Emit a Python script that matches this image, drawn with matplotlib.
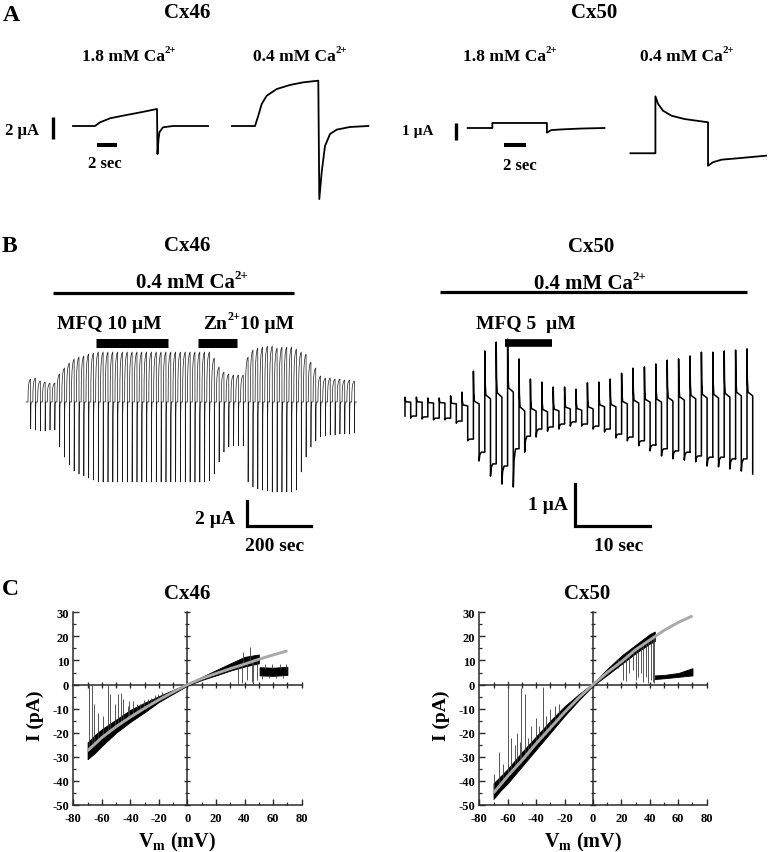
import matplotlib
matplotlib.use('Agg')
import matplotlib.pyplot as plt
import numpy as np

plt.rcParams['font.family'] = ['Liberation Serif', 'DejaVu Serif']
plt.rcParams['font.weight'] = 'bold'
plt.rcParams['axes.unicode_minus'] = False

# ------------------------------------------------------------------ data
# Panel A, Cx46 (time s, current uA relative to holding)
a46_t1 = [0, 2.2, 2.7, 3.7, 5.0, 6.4, 7.4, 8.4, 8.45, 8.55, 8.65, 9.0, 10.0, 13.5]
a46_i1 = [0, 0, 0.33, 0.7, 0.94, 1.18, 1.36, 1.55, -2.55, -1.2, -0.55, -0.12, 0, 0]
a46_t2 = [0, 2.3, 2.63, 2.97, 3.47, 4.47, 5.8, 7.13, 8.63, 8.73, 8.97, 9.3, 9.8, 10.47, 11.8, 13.63]
a46_i2 = [0, 0, 0.94, 2.0, 2.75, 3.36, 3.73, 3.97, 4.12, -6.64, -4.18, -1.82, -0.73, -0.33, -0.09, 0]
# Panel A, Cx50
a50_t1 = [0, 2.27, 2.27, 7.3, 7.3, 7.7, 8.7, 10.5, 12.6]
a50_i1 = [0, 0, 0.29, 0.29, -0.27, -0.12, -0.08, -0.03, 0]
a50_t2 = [0, 2.3, 2.3, 2.55, 3.0, 3.78, 4.97, 7.15, 7.15, 7.6, 8.4, 9.9, 12.5]
a50_i2 = [0, 0, 3.29, 2.85, 2.46, 2.17, 1.98, 1.79, -0.72, -0.52, -0.37, -0.29, -0.14]
ca18 = [('1.8 mM Ca', False), ('2+', True)]
ca04 = [('0.4 mM Ca', False), ('2+', True)]
zn10 = [('Zn', False), ('2+', True), ('10 µM', False)]

# Panel B, Cx46: peak and tail amplitude (uA) of each pulse, pulse period (s)
b46_period = 15.1
b46_peak = [1.84, 1.92, 1.68, 1.60, 1.52, 1.52,
            2.24, 2.72, 3.12, 3.44, 3.60, 3.68, 3.84, 3.92,
            4.0, 4.0, 4.0, 4.0, 4.0, 4.0, 4.0, 4.0, 4.0, 4.0, 4.0, 4.0,
            4.0, 4.0, 4.0, 4.0, 4.0, 4.0, 4.0, 4.0, 4.0, 4.0, 4.0, 4.0,
            3.52, 2.80, 2.40, 2.24, 2.16, 2.16, 2.16,
            3.60, 4.16, 4.32, 4.40, 4.48, 4.48, 4.32, 4.40, 4.40, 4.40, 4.24,
            4.0, 3.84, 3.20, 2.72, 2.08,
            1.92, 1.92, 1.84, 1.84, 1.76, 1.76, 1.68]
b46_tail = [2.16, 2.24, 2.32, 2.32, 2.24, 2.24,
            3.60, 4.40, 5.04, 5.52, 5.76, 5.92, 6.08, 6.24,
            6.4, 6.4, 6.4, 6.4, 6.4, 6.4, 6.4, 6.4, 6.4, 6.4, 6.4, 6.4,
            6.4, 6.4, 6.4, 6.4, 6.4, 6.4, 6.4, 6.4, 6.4, 6.4, 6.4, 6.32,
            5.76, 4.80, 4.00, 3.60, 3.52, 3.52, 3.52,
            6.40, 6.80, 6.96, 7.04, 7.12, 7.20, 7.20, 7.20, 7.20, 7.20, 7.04,
            5.60, 4.40, 3.60, 3.12, 2.80,
            2.72, 2.64, 2.64, 2.56, 2.56, 2.56, 2.48]
# pulse shape (fraction of period / fraction of amplitude)
b46_rise_t = [0.0, 0.03, 0.10, 0.22, 0.38, 0.55]
b46_rise_f = [0.0, 0.45, 0.70, 0.86, 0.96, 1.0]
b46_tail_t = [0.555, 0.60, 0.66]
b46_tail_f = [-1.0, -0.15, 0.0]
b46_ca = (78, 831)
b46_mfq = (212, 437)
b46_zn = (531, 653)

# Panel B, Cx50: per pulse peak, positive plateau, negative trough, negative plateau (uA)
b50_period = 1.52
b50_peak = [0.33, 0.33, 0.31, 0.31, 0.36, 0.45, 0.95, 1.43, 1.64, 1.71, 1.24, 0.76, 0.69,
            0.57, 0.57, 0.52, 0.67, 0.69, 0.76, 0.90, 1.02, 1.05, 1.12, 1.21, 1.24, 1.31,
            1.40, 1.40, 1.43, 1.45, 1.48]
b50_up = [0.21, 0.21, 0.19, 0.19, 0.17, 0.12, 0.17, 0.29, 0.33, 0.45, 0.0, 0.0, -0.02,
          0.0, 0.05, 0.02, 0.05, 0.10, 0.10, 0.17, 0.19, 0.21, 0.21, 0.24, 0.26, 0.29,
          0.31, 0.31, 0.33, 0.36, 0.36]
b50_trough = [-0.17, -0.19, -0.21, -0.21, -0.29, -0.71, -1.19, -1.55, -1.74, -1.81, -0.98,
              -0.62, -0.48, -0.43, -0.36, -0.36, -0.43, -0.50, -0.64, -0.71, -0.83, -0.95,
              -1.07, -1.14, -1.17, -1.21, -1.31, -1.33, -1.38, -1.43, -1.50]
b50_low = [-0.12, -0.14, -0.17, -0.17, -0.24, -0.67, -0.98, -1.26, -1.31, -0.90, -0.60,
           -0.43, -0.38, -0.31, -0.26, -0.31, -0.36, -0.43, -0.55, -0.62, -0.71, -0.81,
           -0.90, -0.95, -0.98, -1.07, -1.10, -1.10, -1.14, -1.14, -1.14]
b50_up_t = [0.0, 0.03, 0.09, 0.5]
b50_up_f = [1.0, 0.35, 0.08, 0.0]
b50_dn_t = [0.5, 0.56, 0.7, 1.0]
b50_dn_f = [1.0, 0.3, 0.0, 0.0]
b50_end = 46.4
b50_ca = (4.67, 45.6)
b50_mfq = (13.3, 19.6)

# Panel C: I-V relations (mV, pA)
fit_v = [-70, -60, -50, -40, -30, -20, -10, 0, 10, 20, 30, 40, 50, 60, 70]
fit46 = [-27.5, -22, -17.5, -13.5, -9.8, -6.3, -3.1, 0, 2.5, 4.6, 6.6, 8.5, 10.5, 12.3, 14.0]
fit50 = [-45, -38, -31.5, -24.5, -18, -11.5, -5.5, 0, 5, 9.5, 14.5, 18.5, 22.5, 25.8, 28.5]

band46_v = [-70, -65, -60, -50, -40, -30, -20, -10, 0, 10, 20, 30, 40, 50]
band46_lo = [-31, -28.5, -25.5, -20, -15.5, -11.5, -7.2, -3.8, -0.4, 1.9, 3.8, 5.8, 7.5, 8.8]
band46_hi = [-24, -21, -18.5, -14.5, -10.5, -7.5, -4.8, -2.2, 0.4, 3.2, 6.0, 8.8, 11.5, 12.5]
sub46_v = [50.5, 60, 70]
sub46_lo = [3.8, 3.6, 4.0]
sub46_hi = [7.2, 7.0, 7.4]
sp46_v = [-69.2, -67.0, -65.5, -63.0, -59.0, -55.5, -54.3, -51.0, -48.5, -46.8, -45.0,
          -42.0, -40.8, -38.0, -35.5, -33.0, -30.5, -28.0, -25.5, -23.0, -20.5, -18.0,
          35.6, 38.0, 38.7, 41.5, 43.8, 45.0, 46.1, 48.5,
          52.0, 54.5, 57.0, 59.5, 62.0, 64.5, 67.0, 69.0]
sp46_from = [-27, -26, -25, -24, -21.5, -19.5, -19, -18, -17, -16, -15.5, -14, -13.8,
             -12.8, -11.5, -11, -10, -9, -8, -7.2, -6.5, -5.8,
             8, 9, 9, 9.5, 10, 10, 10.5, 11,
             4, 6.5, 4, 6.5, 4, 6.5, 4, 6.5]
sp46_to = [0, 0, -8, -12, -13, 0, -4, -8, -4, -3.5, -6, -9, -7, -7, -8, -8, -6.5, -6,
           -5.5, -4.5, -4, -3,
           0, 0.5, 13.5, 2, 15.5, 1, 0, 2,
           2.5, 8.5, 2.8, 8.6, 2.6, 8.4, 2.9, 8.6]

band50_v = [-70, -65, -60, -50, -40, -30, -20, -10, 0, 10, 20, 30, 40, 43.5]
band50_lo = [-47.5, -44, -41, -34, -27, -20, -13, -6.5, -0.5, 4, 8.5, 13, 17, 18]
band50_hi = [-41, -38, -35, -28, -21.5, -15, -9, -4, 0.5, 6.5, 12, 16.5, 21, 22]
sub50_v = [43.5, 50, 60, 70]
sub50_lo = [2.3, 2.6, 3.2, 3.8]
sub50_hi = [3.8, 4.0, 4.8, 6.8]
sp50_v = [-69.5, -66.0, -63.0, -60.0, -57.5, -55.0, -53.5, -51.5, -50.5, -48.0, -46.0,
          -43.5, -40.0, -38.0, -35.2, -33.0, -30.0, -26.5, -24.0,
          17.8, 21.0, 23.5, 25.0, 28.0, 30.5, 32.0, 33.5, 35.5, 37.0, 39.0, 40.5, 42.0, 43.0]
sp50_from = [-45, -42, -40, -38, -36.5, -35, -34, -33, -32.5, -31, -29.5, -27.5, -25,
             -24, -22, -21, -19, -16.5, -15,
             10.5, 11.5, 12.5, 13, 14.5, 15.5, 16, 16.5, 17.5, 18, 19, 19.5, 20, 20.5]
sp50_to = [-37, -28, -33, 1.5, -22, -25, -20, -24, -1.5, -4, -22, -17, -14, -17, -1,
           -13, -10, -9, -8,
           7, 2, 1.5, 5, 6, 2, 3, 5, 1, 3, 0.5, 2, 1, 0.5]

x_ticks = [-80, -60, -40, -20, 0, 20, 40, 60, 80]
y_ticks = [-50, -40, -30, -20, -10, 0, 10, 20, 30]

# ------------------------------------------------------------------ layout
W, H = 770, 853
fig = plt.figure(figsize=(W / 100, H / 100), dpi=100)
renderer = fig.canvas.get_renderer()


def px_axes(x0, y0, x1, y1):
    return fig.add_axes([x0 / W, 1 - y1 / H, (x1 - x0) / W, (y1 - y0) / H])


def trace_axes(box, origin, sx, sy):
    x0, y0, x1, y1 = box
    ox, oy = origin
    ax = px_axes(*box)
    ax.set_xlim((x0 - ox) / sx, (x1 - ox) / sx)
    ax.set_ylim((oy - y1) / sy, (oy - y0) / sy)
    ax.axis('off')
    return ax


def ftext(x, y, s, size, ha='center', va='baseline'):
    return fig.text(x / W, 1 - y / H, s, fontsize=size, ha=ha, va=va, fontweight='bold')


def stext(xc, y, parts, size):
    """centered text made of normal and superscript segments"""
    objs, widths = [], []
    for s, sup in parts:
        fs = size * 0.62 if sup else size
        t = fig.text(0, 0, s, fontsize=fs, fontweight='bold', ha='left', va='baseline')
        widths.append(t.get_window_extent(renderer).width)
        objs.append((t, sup))
    total = sum(widths)
    x = xc - total / 2
    for (t, sup), w in zip(objs, widths):
        yy = y - (size * 0.45 * 100 / 72 if sup else 0)
        t.set_position((x / W, 1 - yy / H))
        x += w


K = 'black'

# ---------------- Panel A
ftext(3, 21, 'A', 17, ha='left')
ftext(187, 18, 'Cx46', 15)
ftext(594, 18, 'Cx50', 15)
stext(129, 61, ca18, 12.5)
stext(300, 61, ca04, 12.5)
stext(510, 61, ca18, 12.5)
stext(687, 61, ca04, 12.5)

axA46 = trace_axes((0, 25, 385, 215), (73, 127), 10.0, 11.0)
axA46.plot(a46_t1, a46_i1, color=K, lw=1.3)
axA46.plot(np.array(a46_t2) + 15.9, a46_i2, color=K, lw=1.3)
axA46.plot([-2.0, -2.0], [-1.18, -1.18 + 2], color=K, lw=2.4, solid_capstyle='butt')
axA46.plot([2.4, 2.4 + 2], [-1.73, -1.73], color=K, lw=2.9, solid_capstyle='butt')
ftext(22, 135, '2 µA', 12)
ftext(105, 168, '2 sec', 12)

axA50 = trace_axes((385, 25, 770, 215), (467.7, 129), 10.85, 17.3)
axA50.plot(a50_t1, a50_i1, color=K, lw=1.3)
axA50.plot(np.array(a50_t2) + 15.0, np.array(a50_i2) - 1.46, color=K, lw=1.3)
axA50.plot([-1.08, -1.08], [-0.69, -0.69 + 1], color=K, lw=2.4, solid_capstyle='butt')
axA50.plot([3.35, 3.35 + 2], [-0.98, -0.98], color=K, lw=2.9, solid_capstyle='butt')
ftext(418, 135, '1 µA', 11)
ftext(520, 170, '2 sec', 12)

# ---------------- Panel B
ftext(2, 252, 'B', 17, ha='left')
ftext(187, 251, 'Cx46', 15)
ftext(591, 252, 'Cx50', 15)
stext(192, 288, ca04, 15)
stext(590, 289, ca04, 15)
ftext(109, 329, 'MFQ 10 µM', 14)
stext(249, 329, zn10, 14)
ftext(526, 329, 'MFQ 5  µM', 14)

axB46 = trace_axes((0, 260, 385, 560), (28, 403), 0.32, 12.5)
tt, yy = [-6.0], [0.0]
for i, (pk, tl) in enumerate(zip(b46_peak, b46_tail)):
    t0 = i * b46_period
    for ft, ff in zip(b46_rise_t, b46_rise_f):
        tt.append(t0 + ft * b46_period)
        yy.append(pk * ff)
    for ft, ff in zip(b46_tail_t, b46_tail_f):
        tt.append(t0 + ft * b46_period)
        yy.append(tl * ff)
tt.append(len(b46_peak) * b46_period)
yy.append(0.0)
axB46.plot(tt, yy, color='#1a1a1a', lw=0.5)
axB46.plot(b46_ca, [8.72, 8.72], color=K, lw=2.3, solid_capstyle='butt')
axB46.plot(b46_mfq, [4.76, 4.76], color=K, lw=6.5, solid_capstyle='butt')
axB46.plot(b46_zn, [4.76, 4.76], color=K, lw=6.5, solid_capstyle='butt')
axB46.plot([684, 684, 684 + 200], [-9.92 + 2, -9.92, -9.92], color=K, lw=2.3,
           solid_joinstyle='miter')
ftext(215, 524, '2 µA', 14)
ftext(275, 551, '200 sec', 14)

axB50 = trace_axes((385, 260, 770, 560), (405, 412), 7.5, 42.0)
tt, yy = [], []
prev_low = b50_low[0]
for i in range(len(b50_peak)):
    t0 = i * b50_period
    tt.append(t0)
    yy.append(prev_low)
    P, U, D, L = b50_peak[i], b50_up[i], b50_trough[i], b50_low[i]
    for ft, ff in zip(b50_up_t, b50_up_f):
        tt.append(t0 + ft * b50_period)
        yy.append(U + ff * (P - U))
    for ft, ff in zip(b50_dn_t, b50_dn_f):
        tt.append(t0 + ft * b50_period)
        yy.append(L + ff * (D - L))
    prev_low = L
tt = np.array(tt)
yy = np.array(yy)
keep = tt <= b50_end
axB50.plot(tt[keep], yy[keep], color=K, lw=1.1)
axB50.plot(b50_ca, [2.83, 2.83], color=K, lw=2.3, solid_capstyle='butt')
axB50.plot(b50_mfq, [1.63, 1.63], color=K, lw=5.5, solid_capstyle='butt')
axB50.plot([22.67, 22.67, 32.67], [-2.74 + 1, -2.74, -2.74], color=K, lw=2.3,
           solid_joinstyle='miter')
ftext(548, 510, '1 µA', 14)
ftext(619, 551, '10 sec', 14)

# ---------------- Panel C
ftext(2, 595, 'C', 17, ha='left')
ftext(187, 599, 'Cx46', 15)
ftext(587, 599, 'Cx50', 15)

SP = '#2a2a2a'


def iv_panel(box, fit_i, bv, blo, bhi, sv, slo, shi, spv, spf, spt):
    ax0 = px_axes(*box)
    ax0.set_xlim(-80, 80)
    ax0.set_ylim(-50, 30)
    ax0.patch.set_visible(False)
    for s in ['top', 'right']:
        ax0.spines[s].set_visible(False)
    ax0.spines['left'].set_position(('data', 0))
    ax0.spines['bottom'].set_position(('data', 0))
    for s in ['left', 'bottom']:
        ax0.spines[s].set_linewidth(1.1)
        ax0.spines[s].set_color(SP)
    ax0.set_xticks(range(-70, 81, 10))
    ax0.set_yticks(range(-50, 31, 10))
    ax0.set_yticks(range(-45, 30, 10), minor=True)
    ax0.tick_params(which='major', direction='inout', length=5, width=1.0, color=SP,
                    labelleft=False, labelbottom=False)
    ax0.tick_params(which='minor', direction='inout', length=2.5, width=0.9, color=SP)
    ax0.tick_params(axis='x', which='major', length=4)

    ax = px_axes(*box)
    ax.patch.set_visible(False)
    ax.set_xlim(-80, 80)
    ax.set_ylim(-50, 30)
    for s in ['top', 'right']:
        ax.spines[s].set_visible(False)
    for s in ['left', 'bottom']:
        ax.spines[s].set_linewidth(1.1)
        ax.spines[s].set_color(SP)
    ax.set_xticks(x_ticks)
    ax.set_yticks(y_ticks)
    ax.set_xticks(range(-70, 80, 20), minor=True)
    ax.set_yticks(range(-45, 30, 10), minor=True)
    ax.tick_params(which='major', direction='in', length=4, width=1.0, color=SP,
                   labelsize=9, pad=3)
    ax.tick_params(which='minor', direction='in', length=2, width=0.9, color=SP)
    ax.tick_params(axis='x', pad=5)
    for lab in ax.get_xticklabels() + ax.get_yticklabels():
        lab.set_fontweight('bold')

    ax.fill_between(bv, blo, bhi, color='black', lw=0.6)
    ax.fill_between(sv, slo, shi, color='black', lw=0.6)
    ax.vlines(spv, spf, spt, color='#3a3a3a', lw=0.6)
    ax.plot(fit_v, fit_i, color='#a9a9a9', lw=2.1, solid_capstyle='butt')

    ax.text(-0.166, 0.466, 'I (pA)', transform=ax.transAxes, rotation=90,
            ha='center', va='center', fontsize=14, fontweight='bold')
    ax.text(0.455, -0.19, 'V$_{\\mathregular{m}}$ (mV)', transform=ax.transAxes,
            ha='center', va='center', fontsize=14.5, fontweight='bold')
    return ax


iv_panel((73.3, 613.3, 301.7, 806), fit46, band46_v, band46_lo, band46_hi,
         sub46_v, sub46_lo, sub46_hi, sp46_v, sp46_from, sp46_to)
iv_panel((479.3, 613.3, 706.7, 806), fit50, band50_v, band50_lo, band50_hi,
         sub50_v, sub50_lo, sub50_hi, sp50_v, sp50_from, sp50_to)

fig.savefig('out.png', dpi=100)
